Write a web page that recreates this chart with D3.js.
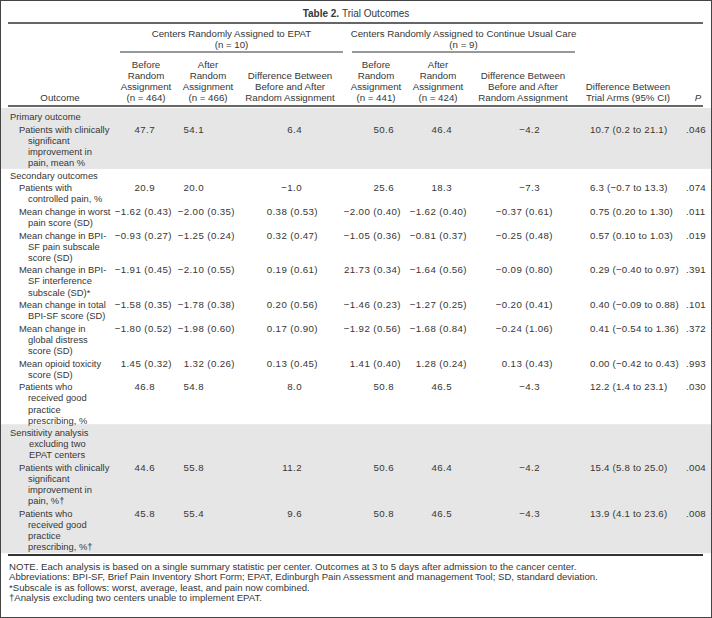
<!DOCTYPE html>
<html>
<head>
<meta charset="utf-8">
<script src="https://cdn.jsdelivr.net/npm/d3@7"></script>
<style>
  body { margin: 0; background: #fff; }
  svg text { font-family: "Liberation Sans", Arial, Helvetica, sans-serif; fill: #363636; }
</style>
</head>
<body>
<div id="viz"></div>
<script>

// ---- table content ----
var outcomes = [
  "Primary outcome",
  "Patients with clinically\nsignificant\nimprovement in\npain, mean %",
  "Secondary outcomes",
  "Patients with\ncontrolled pain, %",
  "Mean change in worst\npain score (SD)",
  "Mean change in BPI-\nSF pain subscale\nscore (SD)",
  "Mean change in BPI-\nSF interference\nsubscale (SD)*",
  "Mean change in total\nBPI-SF score (SD)",
  "Mean change in\nglobal distress\nscore (SD)",
  "Mean opioid toxicity\nscore (SD)",
  "Patients who\nreceived good\npractice\nprescribing, %",
  "Sensitivity analysis\nexcluding two\nEPAT centers",
  "Patients with clinically\nsignificant\nimprovement in\npain, %\u2020",
  "Patients who\nreceived good\npractice\nprescribing, %\u2020"
];
var rowKind = ["section", "item", "section", "item", "item", "item", "item", "item", "item", "item", "item", "section", "item", "item"];
var rowGroup = ["primary", "primary", "secondary", "secondary", "secondary", "secondary", "secondary", "secondary", "secondary", "secondary", "secondary", "sensitivity", "sensitivity", "sensitivity"];
var shadedGroups = ["primary", "sensitivity"];

var beforeEPAT = [null, "47.7", null, "20.9", "\u22121.62 (0.43)", "\u22120.93 (0.27)", "\u22121.91 (0.45)", "\u22121.58 (0.35)", "\u22121.80 (0.52)", "1.45 (0.32)", "46.8", null, "44.6", "45.8"];
var afterEPAT = [null, "54.1", null, "20.0", "\u22122.00 (0.35)", "\u22121.25 (0.24)", "\u22122.10 (0.55)", "\u22121.78 (0.38)", "\u22121.98 (0.60)", "1.32 (0.26)", "54.8", null, "55.8", "55.4"];
var diffEPAT = [null, "6.4", null, "\u22121.0", "0.38 (0.53)", "0.32 (0.47)", "0.19 (0.61)", "0.20 (0.56)", "0.17 (0.90)", "0.13 (0.45)", "8.0", null, "11.2", "9.6"];
var beforeUsual = [null, "50.6", null, "25.6", "\u22122.00 (0.40)", "\u22121.05 (0.36)", "21.73 (0.34)", "\u22121.46 (0.23)", "\u22121.92 (0.56)", "1.41 (0.40)", "50.8", null, "50.6", "50.8"];
var afterUsual = [null, "46.4", null, "18.3", "\u22121.62 (0.40)", "\u22120.81 (0.37)", "\u22121.64 (0.56)", "\u22121.27 (0.25)", "\u22121.68 (0.84)", "1.28 (0.24)", "46.5", null, "46.4", "46.5"];
var diffUsual = [null, "\u22124.2", null, "\u22127.3", "\u22120.37 (0.61)", "\u22120.25 (0.48)", "\u22120.09 (0.80)", "\u22120.20 (0.41)", "\u22120.24 (1.06)", "0.13 (0.43)", "\u22124.3", null, "\u22124.2", "\u22124.3"];
var diffArms = [null, "10.7 (0.2 to 21.1)", null, "6.3 (\u22120.7 to 13.3)", "0.75 (0.20 to 1.30)", "0.57 (0.10 to 1.03)", "0.29 (\u22120.40 to 0.97)", "0.40 (\u22120.09 to 0.88)", "0.41 (\u22120.54 to 1.36)", "0.00 (\u22120.42 to 0.43)", "12.2 (1.4 to 23.1)", null, "15.4 (5.8 to 25.0)", "13.9 (4.1 to 23.6)"];
var pValues = [null, ".046", null, ".074", ".011", ".019", ".391", ".101", ".372", ".993", ".030", null, ".004", ".008"];

var armColumns = [beforeEPAT, afterEPAT, diffEPAT, beforeUsual, afterUsual, diffUsual];

var groupHeads = [
  ["Centers Randomly Assigned to EPAT", "(n = 10)"],
  ["Centers Randomly Assigned to Continue Usual Care", "(n = 9)"]
];
var colHeads = [
  ["Before", "Random", "Assignment", "(n = 464)"],
  ["After", "Random", "Assignment", "(n = 466)"],
  ["Difference Between", "Before and After", "Random Assignment"],
  ["Before", "Random", "Assignment", "(n = 441)"],
  ["After", "Random", "Assignment", "(n = 424)"],
  ["Difference Between", "Before and After", "Random Assignment"],
  ["Difference Between", "Trial Arms (95% CI)"],
  ["P"]
];
var titleBold = "Table 2.";
var titleText = "Trial Outcomes";
var notes = [
  "NOTE. Each analysis is based on a single summary statistic per center. Outcomes at 3 to 5 days after admission to the cancer center.",
  "Abbreviations: BPI-SF, Brief Pain Inventory Short Form; EPAT, Edinburgh Pain Assessment and management Tool; SD, standard deviation.",
  "*Subscale is as follows: worst, average, least, and pain now combined.",
  "\u2020Analysis excluding two centers unable to implement EPAT."
];

// ---- layout ----
var W = 712, H = 618;
var fs = 9.7, labelFs = 9.35, lineH = 11.1, rowGap = 1.5, base = 3.5;
var ruleL = 8, ruleR = 703;

var svg = d3.select("#viz")
    .append("svg")
    .attr("width", W)
    .attr("height", H);

// header column centres, and right edges for plain numbers / "mean (SD)" values
var headX = d3.scaleOrdinal().domain(d3.range(8)).range([146, 208, 290, 376, 438, 523, 628, 698]);
var numRight = d3.scaleOrdinal().domain(d3.range(6)).range([155, 204, 302, 394, 452, 540]);
var sdRight = d3.scaleOrdinal().domain(d3.range(6)).range([172, 235, 318, 401, 467, 553]);
var ciLeft = 590, pLeft = 686;

// row positions: count lines cumulatively
var lines = outcomes.map(function(d){ return d.split("\n"); });
var startLine = [], acc = 0;
lines.forEach(function(l){ startLine.push(acc); acc += l.length; });
var yLine = d3.scaleLinear().domain([0, 1]).range([116.5, 116.5 + lineH]);
function rowY(i){ return yLine(startLine[i]) + i * rowGap; }

// shaded bands
shadedGroups.forEach(function(g){
    var idx = d3.range(outcomes.length).filter(function(i){ return rowGroup[i] == g; });
    var first = idx[0], last = idx[idx.length - 1];
    var top = rowY(first) - 8.5;
    var bottom = rowY(last) + (lines[last].length - 1) * lineH + 6.5;
    svg.append("rect")
        .attr("x", 1).attr("y", top)
        .attr("width", W - 2).attr("height", bottom - top)
        .style("fill", "#e6e6e6");
});

// frame
svg.append("rect")
    .attr("x", 0.5).attr("y", 0.5)
    .attr("width", W - 1).attr("height", H - 1)
    .style("fill", "none")
    .style("stroke", "#444");

// title
var title = svg.append("text")
    .attr("x", W / 2).attr("y", 13.5 + base)
    .attr("text-anchor", "middle")
    .style("font-size", "10px");
title.append("tspan").style("font-weight", "bold").text(titleBold + " ");
title.append("tspan").text(titleText);

function rule(y, x1, x2, w){
    svg.append("line")
        .attr("x1", x1).attr("x2", x2)
        .attr("y1", y).attr("y2", y)
        .style("stroke", "#333")
        .style("stroke-width", w);
}
rule(23, ruleL, ruleR, 1.5);

// group headers
var groupSpan = [[120, 343], [352, 575]];
groupHeads.forEach(function(g, gi){
    var cx = (groupSpan[gi][0] + groupSpan[gi][1]) / 2;
    g.forEach(function(t, k){
        svg.append("text")
            .attr("x", cx).attr("y", 33.5 + k * 11 + base)
            .attr("text-anchor", "middle")
            .style("font-size", fs + "px")
            .text(t);
    });
    rule(52, groupSpan[gi][0], groupSpan[gi][1], 1);
});

// column headers (bottom aligned)
var headBottom = 97, headLineH = 10.8;
svg.append("text")
    .attr("x", 60).attr("y", headBottom + base)
    .attr("text-anchor", "middle")
    .style("font-size", fs + "px")
    .text("Outcome");
colHeads.forEach(function(h, ci){
    h.forEach(function(t, k){
        svg.append("text")
            .attr("x", headX(ci))
            .attr("y", headBottom - (h.length - 1 - k) * headLineH + base)
            .attr("text-anchor", "middle")
            .style("font-size", fs + "px")
            .style("font-style", t == "P" ? "italic" : null)
            .text(t);
    });
});
rule(106, ruleL, ruleR, 1.5);

// rows: labels and values
var rows = svg.selectAll("g.row")
    .data(outcomes)
    .enter()
    .append("g")
    .attr("class", "row");

rows.each(function(d, i){
    var g = d3.select(this);
    var y0 = rowY(i);
    var sec = rowKind[i] == "section";
    lines[i].forEach(function(t, k){
        g.append("text")
            .attr("x", k == 0 ? (sec ? 10 : 19) : (sec ? 29 : 28))
            .attr("y", y0 + k * lineH + base)
            .style("font-size", labelFs + "px")
            .text(t);
    });
    armColumns.forEach(function(col, ci){
        var v = col[i];
        if (v == null) return;
        g.append("text")
            .attr("x", v.indexOf("(") >= 0 ? sdRight(ci) : numRight(ci))
            .attr("y", y0 + base)
            .attr("text-anchor", "end")
            .style("font-size", fs + "px")
            .style("letter-spacing", "0.4px")
            .text(v);
    });
    if (diffArms[i] != null) {
        g.append("text")
            .attr("x", ciLeft).attr("y", y0 + base)
            .style("font-size", fs + "px")
            .style("letter-spacing", "0.2px")
            .text(diffArms[i]);
        g.append("text")
            .attr("x", pLeft).attr("y", y0 + base)
            .style("font-size", fs + "px")
            .style("letter-spacing", "0.3px")
            .text(pValues[i]);
    }
});

rule(555, ruleL, ruleR, 2);

// notes
notes.forEach(function(t, k){
    svg.append("text")
        .attr("x", 9).attr("y", 566 + k * 10.6 + base)
        .style("font-size", "9.6px")
        .text(t);
});

</script>
</body>
</html>
